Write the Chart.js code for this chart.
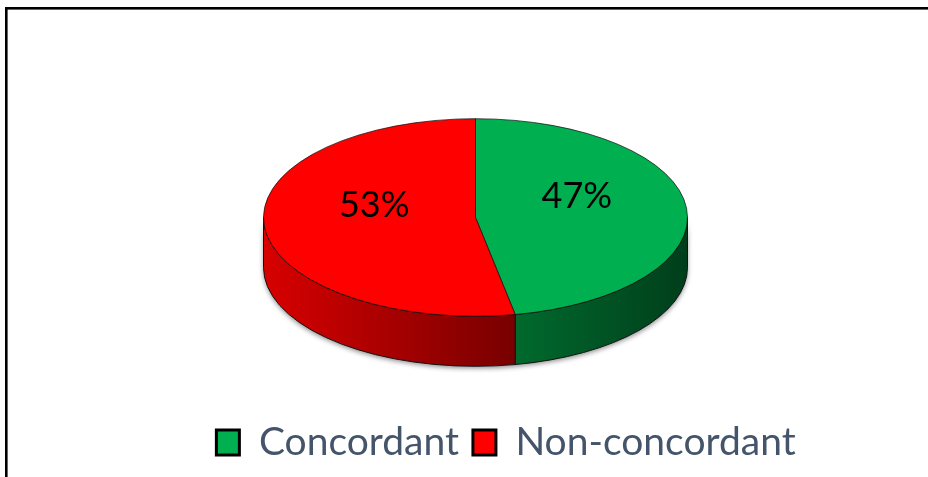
<!DOCTYPE html>
<html>
<head>
<meta charset="utf-8">
<script src="https://cdn.jsdelivr.net/npm/chart.js@4.4.1/dist/chart.umd.min.js"></script>
<style>
  html, body { margin: 0; padding: 0; background: #fff; }
  #wrap { width: 928px; height: 477px; position: relative; }
</style>
</head>
<body>
<div id="wrap"><canvas id="pie3d"></canvas></div>
<script>
// data
const categories = ["Concordant", "Non-concordant"];
const values = [47, 53];
const valueLabels = ["47%", "53%"];

// look
const topColors = ["#00B050", "#FF0000"];
const wallColors = [
  ["#006A2D", "#003E1B"],
  ["#D80000", "#780000"],
];
const TILT = 0.466;     // vertical squash of the top face
const DEPTH = 50;       // wall height in px
const PIE_SHIFT_X = -30.5;

// frame lines (top + left edge of the slide box)
const framePlugin = {
  id: "frame",
  beforeDraw: (chart) => {
    const ctx = chart.ctx;
    ctx.save();
    ctx.fillStyle = "#000";
    ctx.fillRect(5, 7, 923, 2.6);
    ctx.fillRect(5, 7, 2.6, 470);
    ctx.restore();
  },
};

// draws the side walls, then squashes the library's arcs into an ellipse
const pie3dPlugin = {
  id: "pie3d",
  beforeDatasetsDraw: (chart) => {
    const arcs = chart.getDatasetMeta(0).data;
    if (!arcs.length) return;
    const { ctx } = chart;
    const { x, y, outerRadius } = arcs[0];
    const cx = x + PIE_SHIFT_X;
    const cy = y;
    const rx = outerRadius;
    const ry = outerRadius * TILT;

    // soft shadow under the wall
    ctx.save();
    ctx.beginPath();
    ctx.ellipse(cx, cy, rx, ry, 0, 0, Math.PI);
    ctx.lineTo(cx - rx, cy + DEPTH);
    ctx.ellipse(cx, cy + DEPTH, rx, ry, 0, Math.PI, 0, true);
    ctx.closePath();
    ctx.shadowColor = "rgba(0,0,0,0.45)";
    ctx.shadowBlur = 5;
    ctx.shadowOffsetY = 2;
    ctx.fillStyle = "#fff";
    ctx.fill();
    ctx.restore();

    ctx.save();
    ctx.lineWidth = 1;
    ctx.strokeStyle = "#111";
    arcs.forEach((arc, i) => {
      [0, 2 * Math.PI].forEach((base) => {
        const a0 = Math.max(arc.startAngle, base);
        const a1 = Math.min(arc.endAngle, base + Math.PI);
        if (a1 <= a0) return;
        ctx.beginPath();
        ctx.ellipse(cx, cy, rx, ry, 0, a0, a1);
        ctx.lineTo(cx + rx * Math.cos(a1), cy + ry * Math.sin(a1) + DEPTH);
        ctx.ellipse(cx, cy + DEPTH, rx, ry, 0, a1, a0, true);
        ctx.closePath();
        const xl = cx + rx * Math.cos(a1);
        const xr = cx + rx * Math.cos(a0);
        const g = ctx.createLinearGradient(xl, 0, xr, 0);
        g.addColorStop(0, wallColors[i][0]);
        g.addColorStop(1, wallColors[i][1]);
        ctx.fillStyle = g;
        ctx.fill();
        ctx.stroke();
      });
    });
    ctx.restore();

    // squash the top face, restored in afterDatasetsDraw
    ctx.save();
    ctx.translate(cx, cy);
    ctx.scale(1, TILT);
    ctx.translate(-x, -y);
  },
  afterDatasetsDraw: (chart) => {
    const arcs = chart.getDatasetMeta(0).data;
    if (!arcs.length) return;
    const { ctx } = chart;
    ctx.restore();

    const { x, y, outerRadius } = arcs[0];
    const cx = x + PIE_SHIFT_X;
    const cy = y;
    ctx.save();
    ctx.font = "36px Lato";
    ctx.fillStyle = "#000";
    ctx.textAlign = "center";
    ctx.textBaseline = "middle";
    arcs.forEach((arc, i) => {
      const mid = (arc.startAngle + arc.endAngle) / 2;
      const lx = cx + outerRadius * 0.48 * Math.cos(mid);
      const ly = cy + outerRadius * TILT * 0.48 * Math.sin(mid) - 17;
      ctx.fillText(valueLabels[i], lx, ly);
    });
    ctx.restore();
  },
};

const baseLabels = Chart.overrides.doughnut.plugins.legend.labels.generateLabels;

new Chart(document.getElementById("pie3d"), {
  type: "pie",
  data: {
    labels: categories,
    datasets: [
      {
        data: values,
        backgroundColor: topColors,
        borderColor: "#111",
        borderWidth: 1,
        clip: false,
      },
    ],
  },
  plugins: [framePlugin, pie3dPlugin],
  options: {
    responsive: true,
    maintainAspectRatio: false,
    animation: false,
    radius: 212,
    events: [],
    layout: { padding: { top: 26, bottom: 5, left: 84, right: 0 } },
    plugins: {
      tooltip: { enabled: false },
      legend: {
        position: "bottom",
        labels: {
          color: "#44546A",
          font: { family: "Lato", size: 39 },
          boxWidth: 23,
          boxHeight: 25,
          padding: 14,
          generateLabels: (chart) =>
            baseLabels(chart).map((it) => ({ ...it, lineWidth: 3, strokeStyle: "#000" })),
        },
      },
    },
  },
});
</script>
</body>
</html>
